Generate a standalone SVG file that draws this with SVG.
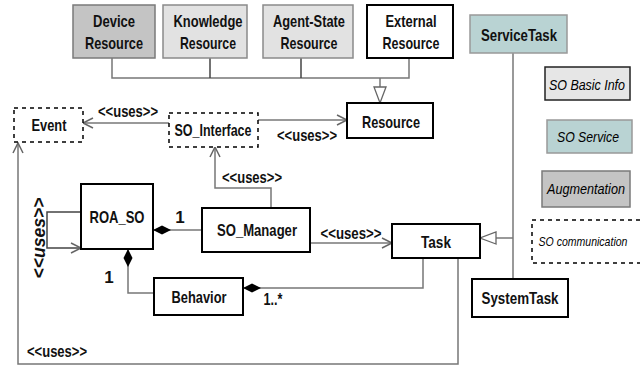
<svg xmlns="http://www.w3.org/2000/svg" width="640" height="368" viewBox="0 0 640 368">
<style>
text{font-family:"Liberation Sans Narrow","Liberation Sans",Arial,sans-serif;fill:#111;text-anchor:middle;font-weight:bold}
.t{font-size:17px}
.u{font-size:16px}
.lg{font-size:15px;font-style:italic;font-weight:normal;fill:#000}
.bx{fill:#fff;stroke:#000;stroke-width:2}
.dash{fill:#fff;stroke:#000;stroke-width:1.5;stroke-dasharray:4 4}
.gdark{fill:#c4c4c4;stroke:#7a7a7a;stroke-width:1.5}
.glight{fill:#e2e2e2;stroke:#8a8a8a;stroke-width:1.5}
.teal{fill:#b9d3d3;stroke:#999;stroke-width:1.5}
.ln{fill:none;stroke:#777;stroke-width:1.5}
.lnd{fill:none;stroke:#444;stroke-width:1.5}
</style>
<defs>
<marker id="open" markerUnits="userSpaceOnUse" markerWidth="12" markerHeight="12" refX="11" refY="6" orient="auto" overflow="visible">
<path d="M1,1 L11,6 L1,11" fill="none" stroke="#666" stroke-width="1.5"/>
</marker>
<marker id="tri" markerUnits="userSpaceOnUse" markerWidth="18" markerHeight="14" refX="16" refY="7" orient="auto" overflow="visible">
<path d="M0,1 L16,7 L0,13 Z" fill="#fff" stroke="#666" stroke-width="1.3"/>
</marker>
<marker id="dia" markerUnits="userSpaceOnUse" markerWidth="20" markerHeight="12" refX="0" refY="5" orient="auto" overflow="visible">
<path d="M0,5 L9,0.5 L18,5 L9,9.5 Z" fill="#000"/>
</marker>
</defs>

<g id="connectors">
<path class="ln" d="M112,58 V78 H409 V58"/>
<path class="lnd" d="M210,58 V78"/>
<path class="lnd" d="M301,58 V78"/>
<path class="ln" d="M380,78 V103" marker-end="url(#tri)"/>
<path class="ln" d="M169,123 H83" marker-end="url(#open)"/>
<text class="u" x="128" y="117" textLength="60" lengthAdjust="spacingAndGlyphs">&lt;&lt;uses&gt;&gt;</text>
<path class="ln" d="M258,120 H347" marker-end="url(#open)"/>
<text class="u" x="307" y="141" textLength="60" lengthAdjust="spacingAndGlyphs">&lt;&lt;uses&gt;&gt;</text>
<path class="ln" d="M271,208 V188 H215 V147" marker-end="url(#open)"/>
<text class="u" x="252" y="183" textLength="60" lengthAdjust="spacingAndGlyphs">&lt;&lt;uses&gt;&gt;</text>
<path class="ln" d="M153,230 H202" marker-start="url(#dia)"/>
<text class="t" x="180" y="223">1</text>
<path class="lnd" d="M81,212 H47 V248 H81" marker-end="url(#open)"/>
<text x="0" y="0" transform="translate(45,238) rotate(-90)" style="font-family:'Liberation Sans',Arial,sans-serif;font-size:18px;font-weight:bold;font-style:italic" textLength="81" lengthAdjust="spacingAndGlyphs">&lt;&lt;uses&gt;&gt;</text>
<path class="ln" d="M310,243 H392" marker-end="url(#open)"/>
<text class="u" x="351" y="239" textLength="61" lengthAdjust="spacingAndGlyphs">&lt;&lt;uses&gt;&gt;</text>
<path class="ln" d="M243,288 H423 V258" marker-start="url(#dia)"/>
<text class="t" x="273" y="305" textLength="19" lengthAdjust="spacingAndGlyphs">1..*</text>
<path class="ln" d="M128,249 V293 H154" marker-start="url(#dia)"/>
<text class="t" x="109" y="283">1</text>
<path class="ln" d="M458,258 V364 H18 V143" marker-end="url(#open)"/>
<text class="u" x="57" y="357" textLength="60" lengthAdjust="spacingAndGlyphs">&lt;&lt;uses&gt;&gt;</text>
<path class="ln" d="M513,53 V279"/>
<path class="ln" d="M513,238 H480" marker-end="url(#tri)"/>
</g>

<g id="device-resource"><rect class="gdark" x="73" y="5" width="82" height="53"/>
<text class="t" x="114" y="27" textLength="42" lengthAdjust="spacingAndGlyphs">Device</text>
<text class="t" x="114" y="49" textLength="58" lengthAdjust="spacingAndGlyphs">Resource</text></g>
<g id="knowledge-resource"><rect class="glight" x="163" y="5" width="84" height="53"/>
<text class="t" x="208" y="27" textLength="69" lengthAdjust="spacingAndGlyphs">Knowledge</text>
<text class="t" x="208" y="49" textLength="56" lengthAdjust="spacingAndGlyphs">Resource</text></g>
<g id="agent-state-resource"><rect class="glight" x="263" y="5" width="90" height="53"/>
<text class="t" x="309" y="27" textLength="72" lengthAdjust="spacingAndGlyphs">Agent-State</text>
<text class="t" x="309" y="49" textLength="57" lengthAdjust="spacingAndGlyphs">Resource</text></g>
<g id="external-resource"><rect class="bx" x="367" y="5" width="86" height="53"/>
<text class="t" x="411" y="27" textLength="51" lengthAdjust="spacingAndGlyphs">External</text>
<text class="t" x="411" y="49" textLength="57" lengthAdjust="spacingAndGlyphs">Resource</text></g>
<g id="service-task"><rect class="teal" x="470" y="15" width="97" height="38"/>
<text class="t" x="519" y="41" textLength="76" lengthAdjust="spacingAndGlyphs">ServiceTask</text></g>
<g id="resource"><rect class="bx" x="347" y="103" width="86" height="35"/>
<text class="t" x="391" y="128" textLength="58" lengthAdjust="spacingAndGlyphs">Resource</text></g>
<g id="event"><rect class="dash" x="14" y="108" width="69" height="34"/>
<text class="t" x="49" y="131" textLength="35" lengthAdjust="spacingAndGlyphs">Event</text></g>
<g id="so-interface"><rect class="dash" x="169" y="113" width="89" height="34"/>
<text class="t" x="213" y="136" textLength="77" lengthAdjust="spacingAndGlyphs">SO_Interface</text></g>
<g id="roa-so"><rect class="bx" x="81" y="184" width="72" height="65"/>
<text class="t" x="117" y="223" textLength="55" lengthAdjust="spacingAndGlyphs">ROA_SO</text></g>
<g id="so-manager"><rect class="bx" x="202" y="208" width="108" height="44"/>
<text class="t" x="257" y="236" textLength="80" lengthAdjust="spacingAndGlyphs">SO_Manager</text></g>
<g id="task"><rect class="bx" x="392" y="224" width="88" height="34"/>
<text class="t" x="436" y="248" textLength="30" lengthAdjust="spacingAndGlyphs">Task</text></g>
<g id="behavior"><rect class="bx" x="154" y="278" width="89" height="37"/>
<text class="t" x="199" y="303" textLength="55" lengthAdjust="spacingAndGlyphs">Behavior</text></g>
<g id="system-task"><rect class="bx" x="472" y="279" width="96" height="38"/>
<text class="t" x="520" y="304" textLength="77" lengthAdjust="spacingAndGlyphs">SystemTask</text></g>

<g id="legend-basic-info"><rect x="545" y="67" width="85" height="33" fill="#e6e6e6" stroke="#222" stroke-width="1.5"/>
<text class="lg" x="587" y="90" textLength="76" lengthAdjust="spacingAndGlyphs">SO Basic Info</text></g>
<g id="legend-service"><rect class="teal" x="547" y="120" width="85" height="33"/>
<text class="lg" x="588" y="142" textLength="62" lengthAdjust="spacingAndGlyphs">SO Service</text></g>
<g id="legend-augmentation"><rect class="gdark" x="542" y="171" width="88" height="36"/>
<text class="lg" x="586" y="194" textLength="78" lengthAdjust="spacingAndGlyphs">Augmentation</text></g>
<g id="legend-communication"><path d="M640,220 H532 V263 H640" fill="#fff" stroke="#000" stroke-width="1.5" stroke-dasharray="4 4"/>
<text class="lg" transform="translate(583,246) scale(0.81,1)" style="font-size:13px">SO communication</text></g>
</svg>
